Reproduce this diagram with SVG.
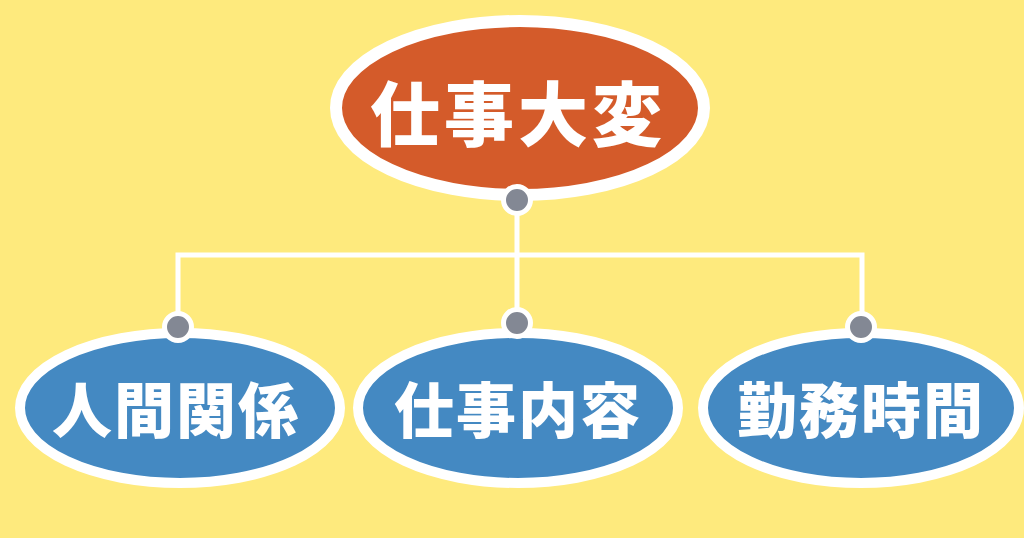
<svg xmlns="http://www.w3.org/2000/svg" width="1024" height="538" viewBox="0 0 1024 538">
<style>
.bg{fill:#FEEA7D}
.top{fill:#D45B2A;stroke:#fff;stroke-width:12}
.sub{fill:#4489C2;stroke:#fff;stroke-width:10}
.lbl{fill:#fff;font-family:"Noto Sans CJK JP","Noto Sans CJK SC",sans-serif;font-weight:900;text-anchor:middle;dominant-baseline:central}
.dot{fill:#838894;stroke:#fff;stroke-width:5}
.ln{fill:none;stroke:#fff;stroke-width:5}
</style>
<rect class="bg" x="0" y="0" width="1024" height="538"/>
<g id="connectors">
<path class="ln" d="M517 200 V323 M178 327 V255 H862 V327"/>
</g>
<g id="node-top">
<ellipse class="top" cx="520" cy="108" rx="184" ry="87"/>
<text class="lbl" x="518" y="110" font-size="70" letter-spacing="4">仕事大変</text>
<circle class="dot" cx="517" cy="200" r="13.5"/>
</g>
<g id="node-1">
<ellipse class="sub" cx="180" cy="408" rx="160" ry="75"/>
<text class="lbl" x="176" y="406" font-size="60" letter-spacing="2">人間関係</text>
<circle class="dot" cx="178" cy="327" r="13.5"/>
</g>
<g id="node-2">
<ellipse class="sub" cx="518" cy="408" rx="160" ry="75"/>
<text class="lbl" x="518" y="406" font-size="60" letter-spacing="2">仕事内容</text>
<circle class="dot" cx="517" cy="323" r="13.5"/>
</g>
<g id="node-3">
<ellipse class="sub" cx="861" cy="408" rx="158" ry="75"/>
<text class="lbl" x="861" y="406" font-size="60" letter-spacing="2">勤務時間</text>
<circle class="dot" cx="861" cy="327" r="13.5"/>
</g>
</svg>
